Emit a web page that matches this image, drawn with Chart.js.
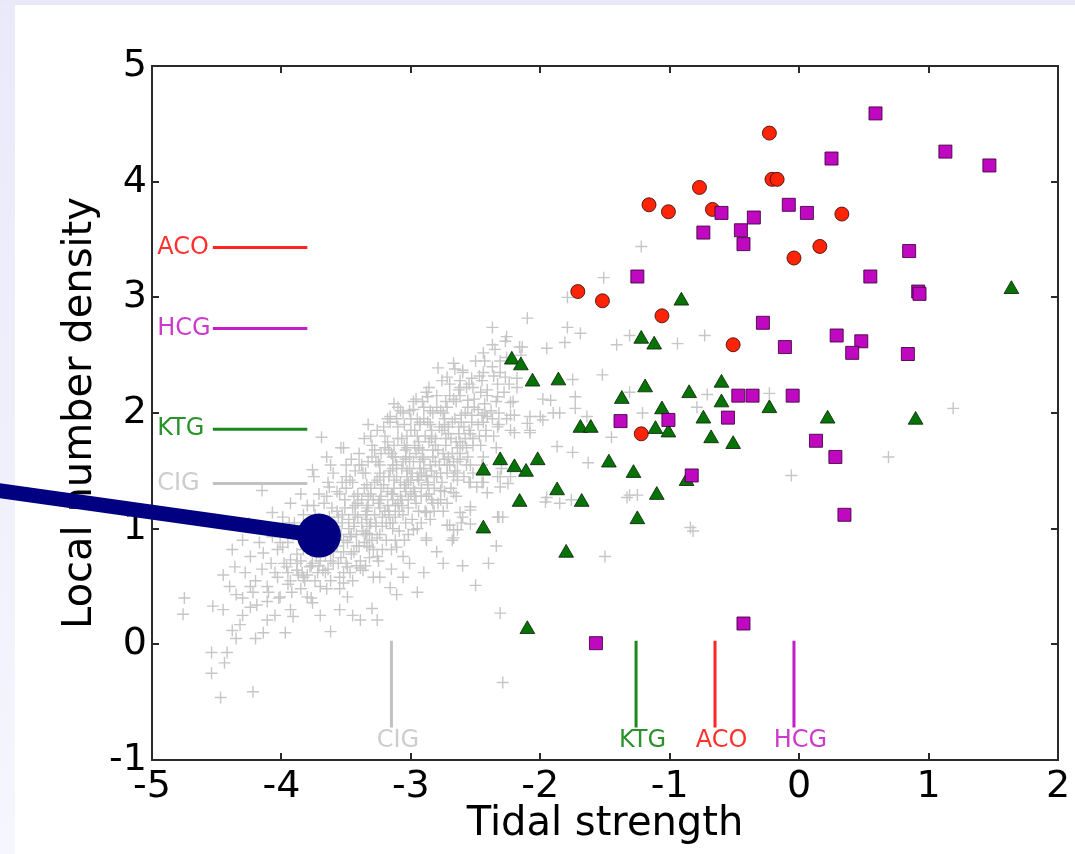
<!DOCTYPE html>
<html><head><meta charset="utf-8">
<script src="https://cdn.jsdelivr.net/npm/chart.js@4.4.1/dist/chart.umd.min.js"></script>
<style>html,body{margin:0;padding:0;background:#fff;overflow:hidden}#wrap{width:1075px;height:854px;position:relative}</style>
</head><body><div id="wrap"><canvas id="c" width="1075" height="854"></canvas></div>
<script>
const FONT = '"DejaVu Sans", "Liberation Sans", sans-serif';
const xTicks = [-5, -4, -3, -2, -1, 0, 1, 2];
const yTicks = [-1, 0, 1, 2, 3, 4, 5];

// typical values of each sample (horizontal marks on the left, vertical marks at the bottom)
const refNames = ['ACO', 'HCG', 'KTG', 'CIG'];
const refDensity = [3.43, 2.73, 1.86, 1.39];
const refTidal = [-0.65, -0.04, -1.26, -3.15];
const refLineColors = ['#ff2424', '#c41ec8', '#1a881a', '#c2c2c2'];
const refTextColors = ['#ff3030', '#cc3acc', '#2a922a', '#cdcdcd'];
const refHSpan = [-4.53, -3.80];
const refVSpan = [0.03, -0.72];
const refLabelX = -4.96;
const refLabelY = -0.83;

// ACO (red circles)
const aco = [[-0.23,4.42],[-0.77,3.95],[-1.16,3.80],[-1.01,3.74],[-0.21,4.02],[-0.17,4.02],[-0.67,3.76],[0.33,3.72],[0.16,3.44],[-0.04,3.34],[-1.71,3.05],[-1.52,2.97],[-1.06,2.84],[-0.51,2.59],[-1.22,1.82]];

// HCG (magenta squares)
const hcg = [[0.59,4.59],[0.25,4.20],[1.13,4.26],[1.47,4.14],[-0.08,3.80],[0.06,3.73],[-0.35,3.69],[-0.60,3.73],[-0.74,3.56],[-0.45,3.58],[-0.43,3.46],[-1.25,3.18],[0.85,3.40],[0.55,3.18],[0.92,3.05],[0.93,3.03],[-0.28,2.78],[0.29,2.67],[0.48,2.62],[0.41,2.52],[0.84,2.51],[-0.11,2.57],[-0.47,2.15],[-0.36,2.15],[-0.05,2.15],[-1.38,1.93],[-1.01,1.94],[-0.55,1.96],[0.13,1.76],[0.28,1.62],[0.35,1.12],[-0.83,1.46],[-1.57,0.01],[-0.43,0.18]];

// KTG (green triangles)
const ktg = [[-0.91,2.97],[-1.22,2.64],[-1.12,2.59],[-2.22,2.46],[-2.15,2.41],[-2.06,2.27],[-1.86,2.28],[-1.19,2.22],[-0.85,2.17],[-0.60,2.26],[-1.37,2.12],[-0.60,2.09],[-1.06,2.03],[-0.74,1.95],[-1.69,1.87],[-1.61,1.87],[-1.11,1.86],[-1.01,1.83],[-0.68,1.78],[-0.51,1.73],[-2.31,1.59],[-2.02,1.59],[-1.47,1.57],[-2.44,1.50],[-2.20,1.53],[-2.11,1.49],[-1.28,1.48],[-0.87,1.41],[-1.87,1.33],[-1.10,1.29],[-2.16,1.23],[-1.68,1.23],[-1.25,1.08],[-2.44,1.00],[-1.80,0.79],[-2.10,0.13],[-0.23,2.04],[0.22,1.95],[0.90,1.94],[1.64,3.07]];

// CIG (grey crosses)
const cig = [
[-4.75,0.40],[-4.76,0.26],[-4.53,0.33],[-4.54,-0.25],[-4.47,-0.46],[-4.22,-0.41],[-4.54,-0.07],[-4.42,-0.07],[-4.44,-0.16],
[-4.35,0.43],[-4.38,0.82],[-4.36,0.67],[-4.38,0.12],[-4.32,0.17],[-4.30,0.25],[-4.24,0.32],[-4.14,0.10],[-4.11,0.21],[-3.97,0.10],[-3.93,0.30],[-3.91,0.24],[-3.62,0.11],[-3.39,0.21],[-3.30,0.31],[-3.26,0.21],[-3.49,0.41],[-3.16,0.49],[-3.11,0.43],[-2.95,0.45],[-3.06,0.58],[-3.29,0.58],[-3.39,0.66],[-3.52,0.53],[-3.70,0.50],[-3.76,0.36],[-3.80,0.41],[-4.01,0.41],[-4.11,0.37],[-4.19,0.34],[-4.24,0.50],[-4.11,0.50],[-4.03,0.58],[-3.96,0.67],[-3.88,0.64],[-3.83,0.58],[-3.68,0.64],[-3.60,0.70],[-3.49,0.67],[-3.37,0.64],[-3.24,0.58],[-3.26,0.76],[-3.32,0.84],[-3.11,0.84],[-3.06,0.76],[-3.01,0.70],[-2.88,0.92],[-2.98,0.99],[-3.14,1.05],[-3.34,0.96],[-3.47,0.93],[-3.62,0.93],[-3.93,0.73],[-4.03,0.82],[-4.14,0.79],[-4.24,0.76],[-4.30,0.90],[-4.17,0.88],[-4.07,0.93],[-3.99,0.84],[-3.83,0.82],[-3.73,0.76],[-3.88,0.70],[-3.78,0.67],[-4.07,1.14],[-3.93,1.22],[-3.99,1.10],[-4.11,1.01],[-4.15,1.33],[-4.25,1.05],[-4.45,0.60],
[-3.69,1.79],[-3.76,1.51],[-3.52,1.70],[-3.33,1.90],[-3.10,2.05],[-2.98,2.03],[-3.16,1.97],[-2.87,2.14],[-3.85,1.30],[-3.62,1.55],
[-3.82,0.55],[-3.78,0.85],[-3.81,1.02],[-3.77,0.68],[-3.80,1.20],[-3.92,0.45],[-3.88,0.78],[-3.91,0.95],[-3.87,0.60],[-4.02,0.40],[-3.98,0.70],[-4.01,0.88],
[-3.72,0.62],[-3.68,0.95],[-3.74,1.12],[-3.66,0.78],[-3.71,1.30],[-3.65,0.48],[-3.69,1.05],
[-3.62,0.72],[-3.58,1.02],[-3.61,1.18],[-3.57,0.85],[-3.63,1.36],[-3.55,0.58],[-3.60,1.48],[-3.56,1.10],
[-3.52,0.80],[-3.48,1.08],[-3.51,1.25],[-3.46,0.95],[-3.53,1.40],[-3.47,0.62],[-3.50,1.55],[-3.45,1.18],[-3.49,0.88],
[-3.42,0.85],[-3.38,1.05],[-3.41,1.22],[-3.36,1.35],[-3.43,1.50],[-3.37,0.98],[-3.40,1.65],[-3.35,1.12],[-3.39,0.72],[-3.44,1.28],
[-3.32,0.95],[-3.28,1.12],[-3.31,1.30],[-3.26,1.42],[-3.33,1.58],[-3.27,1.05],[-3.30,1.72],[-3.25,1.22],[-3.29,0.82],[-3.34,1.38],[-3.24,1.55],
[-3.22,1.02],[-3.18,1.20],[-3.21,1.38],[-3.16,1.50],[-3.23,1.65],[-3.17,1.12],[-3.20,1.80],[-3.15,1.30],[-3.19,0.90],[-3.24,1.45],[-3.14,1.62],[-3.18,1.95],
[-3.12,1.10],[-3.08,1.28],[-3.11,1.45],[-3.06,1.58],[-3.13,1.72],[-3.07,1.20],[-3.10,1.88],[-3.05,1.38],[-3.09,0.98],[-3.14,1.52],[-3.04,1.68],[-3.08,2.02],
[-3.02,1.18],[-2.98,1.35],[-3.01,1.52],[-2.96,1.65],[-3.03,1.80],[-2.97,1.28],[-3.00,1.95],[-2.95,1.45],[-2.99,1.08],[-3.04,1.60],[-2.94,1.75],[-2.98,2.10],[-3.02,1.40],
[-2.92,1.28],[-2.88,1.45],[-2.91,1.62],[-2.86,1.75],[-2.93,1.90],[-2.87,1.38],[-2.90,2.05],[-2.85,1.55],[-2.89,1.15],[-2.94,1.70],[-2.84,1.85],[-2.88,2.18],
[-2.82,1.35],[-2.78,1.55],[-2.81,1.72],[-2.76,1.85],[-2.83,2.00],[-2.77,1.48],[-2.80,2.15],[-2.75,1.65],[-2.79,1.22],[-2.84,1.80],[-2.74,1.95],
[-2.72,1.48],[-2.68,1.65],[-2.71,1.82],[-2.66,1.95],[-2.73,2.10],[-2.67,1.58],[-2.70,2.25],[-2.65,1.75],[-2.69,1.35],[-2.74,1.90],
[-2.62,1.60],[-2.58,1.78],[-2.61,1.92],[-2.56,2.05],[-2.63,2.20],[-2.57,1.70],[-2.60,2.35],[-2.55,1.85],[-2.59,1.45],
[-2.52,1.72],[-2.48,1.90],[-2.51,2.05],[-2.46,2.18],[-2.53,2.30],[-2.47,1.80],[-2.50,2.45],[-2.45,1.98],
[-2.42,1.85],[-2.38,2.02],[-2.41,2.20],[-2.36,2.32],[-2.43,2.45],[-2.37,1.95],[-2.35,2.55],
[-2.32,2.00],[-2.28,2.18],[-2.31,2.35],[-2.26,2.48],[-2.27,2.62],[-2.21,2.10],[-2.18,2.30],[-2.15,2.50],
[-3.76,0.70],[-3.73,0.92],[-3.75,1.45],[-3.77,0.40],
[-3.66,0.62],[-3.64,0.88],[-3.67,1.22],[-3.63,1.02],[-3.65,1.62],
[-3.56,0.70],[-3.54,0.95],[-3.57,1.32],[-3.53,1.12],[-3.55,0.48],[-3.54,1.70],
[-3.46,0.78],[-3.44,1.02],[-3.47,1.42],[-3.43,1.20],[-3.45,0.55],[-3.46,1.60],
[-3.36,0.88],[-3.34,1.08],[-3.37,1.48],[-3.33,1.28],[-3.35,0.68],[-3.36,1.78],[-3.34,1.18],
[-3.26,0.92],[-3.24,1.18],[-3.27,1.58],[-3.23,1.35],[-3.25,0.72],[-3.26,1.85],[-3.24,1.48],[-3.27,1.02],
[-3.16,1.05],[-3.14,1.25],[-3.17,1.68],[-3.13,1.42],[-3.15,0.82],[-3.16,1.92],[-3.14,1.55],[-3.17,1.15],[-3.13,2.08],
[-3.06,1.12],[-3.04,1.35],[-3.07,1.78],[-3.03,1.50],[-3.05,0.90],[-3.06,2.00],[-3.04,1.62],[-3.07,1.25],[-3.03,1.70],
[-2.96,1.22],[-2.94,1.42],[-2.97,1.85],[-2.93,1.58],[-2.95,1.00],[-2.96,2.12],[-2.94,1.70],[-2.97,1.32],[-2.93,1.92],
[-2.86,1.30],[-2.84,1.50],[-2.87,1.92],[-2.83,1.68],[-2.85,1.08],[-2.86,2.22],[-2.84,1.78],[-2.87,1.40],
[-2.76,1.40],[-2.74,1.60],[-2.77,2.02],[-2.73,1.78],[-2.75,1.15],[-2.76,2.28],[-2.74,1.88],
[-2.66,1.50],[-2.64,1.70],[-2.67,2.12],[-2.63,1.88],[-2.65,1.28],[-2.66,2.38],
[-2.56,1.62],[-2.54,1.82],[-2.57,2.22],[-2.53,1.98],[-2.55,1.40],
[-2.46,1.72],[-2.44,1.92],[-2.47,2.32],[-2.43,2.08],[-2.45,1.55],
[-2.36,1.80],[-2.34,2.10],[-2.37,2.40],[-2.26,1.95],[-2.24,2.25],
[-3.93,0.55],[-3.95,0.88],[-3.94,1.05],
[-3.84,0.62],[-3.86,0.92],[-3.85,0.48],[-3.83,1.12],
[-3.74,0.55],[-3.72,0.80],[-3.73,1.00],[-3.75,1.20],[-3.71,0.68],
[-3.64,0.65],[-3.62,0.82],[-3.63,1.10],[-3.61,0.95],[-3.65,1.28],[-3.62,0.55],
[-3.54,0.75],[-3.52,0.90],[-3.53,1.05],[-3.51,1.18],[-3.55,1.30],[-3.52,0.62],[-3.50,1.45],
[-3.44,0.80],[-3.42,0.95],[-3.43,1.12],[-3.41,1.30],[-3.45,1.40],[-3.42,0.68],[-3.40,1.55],[-3.44,1.05],
[-3.34,0.85],[-3.32,1.02],[-3.33,1.20],[-3.31,1.35],[-3.35,1.48],[-3.32,0.75],[-3.30,1.62],[-3.34,1.15],[-3.31,1.80],
[-3.24,0.95],[-3.22,1.10],[-3.23,1.28],[-3.21,1.45],[-3.25,1.58],[-3.22,0.82],[-3.20,1.70],[-3.24,1.25],[-3.21,1.88],
[-3.14,1.00],[-3.12,1.20],[-3.13,1.35],[-3.11,1.55],[-3.15,1.65],[-3.12,0.90],[-3.10,1.78],[-3.14,1.30],[-3.11,1.95],
[-3.04,1.05],[-3.02,1.25],[-3.03,1.45],[-3.01,1.62],[-3.05,1.72],[-3.02,0.95],[-3.00,1.85],[-3.04,1.32],[-3.01,2.02],
[-2.94,1.15],[-2.92,1.35],[-2.93,1.52],[-2.91,1.68],[-2.95,1.80],[-2.92,1.05],[-2.90,1.95],[-2.94,1.42],[-2.91,2.10],
[-2.84,1.25],[-2.82,1.45],[-2.83,1.62],[-2.81,1.78],[-2.85,1.90],[-2.82,1.15],[-2.80,2.05],
[-2.74,1.32],[-2.72,1.55],[-2.73,1.72],[-2.71,1.88],[-2.75,2.00],[-2.72,1.22],[-2.70,2.15],
[-2.64,1.42],[-2.62,1.65],[-2.63,1.82],[-2.61,1.98],[-2.65,2.10],[-2.62,2.28],
[-2.54,1.55],[-2.52,1.78],[-2.53,1.92],[-2.51,2.12],[-2.55,2.25],
[-2.44,1.62],[-2.42,1.80],[-2.43,2.00],[-2.41,2.15],[-2.45,2.28],
[-2.34,1.70],[-2.32,1.90],[-2.33,2.25],[-2.31,2.45],
[-3.48,1.00],[-3.41,1.10],[-3.38,1.25],[-3.35,0.95],[-3.31,1.05],[-3.29,1.25],[-3.28,1.40],[-3.19,1.05],[-3.18,1.32],[-3.17,1.45],[-3.12,1.62],[-3.09,1.15],[-3.08,1.40],[-3.07,1.52],[-3.00,1.30],[-2.99,1.48],[-2.98,1.58],[-2.97,1.72],[-2.92,1.48],[-2.90,1.60],[-2.89,1.80],[-2.88,1.28],[-2.81,1.58],[-2.79,1.68],[-2.78,1.88],[-2.77,1.25],[-2.71,1.62],[-2.69,1.78],[-2.68,1.92],[-2.67,1.45],[-2.60,1.72],[-2.59,1.88],[-2.58,2.00],[-2.57,1.55],
[-3.58,0.90],[-3.57,1.15],[-3.60,0.80],[-3.50,0.70],[-3.40,0.85],[-3.30,0.90],[-3.20,1.15],[-3.10,1.22],[-3.00,1.42],[-2.90,1.52],[-2.80,1.45],[-2.70,1.55],[-2.62,1.75],[-3.68,0.85],[-3.70,0.72],[-3.80,0.60],[-3.85,0.72],[-3.95,0.62],[-4.05,0.62],[-4.10,0.45],[-4.22,0.45],[-4.30,0.40],[-3.64,1.40],[-3.50,1.35],[-3.38,1.55],[-3.28,1.68],[-3.18,1.75],[-3.05,1.90],[-2.95,1.95],[-2.85,2.02],[-2.72,2.05],[-2.62,2.15],
[-4.05,0.25],[-4.20,0.55],[-4.28,0.62],[-4.15,0.65],[-4.08,0.70],[-3.95,0.52],[-4.35,0.05],[-4.20,0.05],[-4.45,0.30],[-4.40,0.50],[-4.00,1.00],[-3.90,1.05],[-3.70,0.25],[-3.55,0.30],[-3.45,0.25],[-3.15,0.65],[-2.90,0.62],[-2.80,0.80],[-2.75,0.70],
[-2.27,2.31],[-2.18,2.22],[-2.33,2.14],[-2.23,2.09],[-2.20,1.98],[-2.10,1.91],[-2.23,1.85],[-2.08,1.83],[-2.33,1.88],[-2.41,1.97],[-2.48,2.03],[-2.56,2.11],[-2.62,2.22],[-2.52,2.22],[-2.44,2.35],[-2.60,2.37],[-2.72,2.31],[-2.79,2.39],[-2.67,2.43],[-2.44,2.52],[-2.37,2.59],
[-2.50,0.51],[-2.60,0.68],[-2.40,0.70],[-2.34,0.85],[-2.32,1.10],[-2.67,0.92],[-2.64,0.99],[-2.70,1.03],[-2.61,1.05],[-2.54,1.04],[-2.54,1.16],[-2.25,1.39],[-2.33,1.45],[-2.44,1.40],
[-1.96,1.23],[-1.85,1.22],[-1.76,1.25],[-1.33,1.27],[-1.25,1.29],[-1.50,0.76],[-0.82,0.98],[-2.31,0.27],[-2.29,-0.33],
[-2.88,1.46],[-2.77,1.33],[-2.67,1.31],[-2.83,1.22],[-2.88,1.14],[-2.72,1.03],[-2.60,1.10],[-2.67,0.99],[-2.68,0.90],[-2.88,0.90],[-2.52,1.48],[-2.31,1.45],[-2.45,1.40],
[-2.26,2.66],[-2.14,2.57],[-1.95,2.56],[-1.81,2.61],[-1.69,2.69],[-1.41,2.59],[-1.31,2.67],[-0.94,2.60],[-0.73,2.67],[-1.52,2.33],[-1.31,2.18],[-0.71,2.16],[-0.79,2.05],[-1.21,2.00],[-1.45,1.79],[-1.73,2.14],[-1.73,2.04],[-1.85,2.00],[-1.92,2.11],[-1.64,1.97],[-2.08,1.97],[-1.98,1.94],[-2.23,1.98],[-2.20,1.83],[-2.08,1.85],[-1.87,1.71],[-1.75,1.66],[-1.63,1.57],[-2.49,1.36],[-2.41,1.31],[-2.31,1.36],[-1.31,1.29],[-2.64,1.58],[-2.64,1.48],[-2.54,1.40],[-2.23,1.45],[-1.95,1.27],[-2.29,1.10],[-2.62,1.14],[-2.54,1.19],[-2.33,1.10],[-0.84,1.01],
[-1.22,3.44],[-1.51,3.17],[-1.79,3.00],[-2.10,2.82],[-2.37,2.74],[-1.79,2.74],[-2.16,2.57],[-1.75,2.29],[-1.98,2.12],[-1.90,2.00],[-2.00,1.97],[-2.30,1.52],
[-0.23,2.17],[1.19,2.04],[0.69,1.62],[-0.06,1.46]
];

const pts = arr => arr.map(([x, y]) => ({x, y}));

const bgPlugin = {
  id: 'bg',
  beforeDraw(chart) {
    const ctx = chart.ctx, W = chart.width, H = chart.height;
    ctx.save();
    ctx.fillStyle = '#e8e8f9';
    ctx.fillRect(0, 0, W, H);
    const g = ctx.createLinearGradient(0, 0, 0, H);
    g.addColorStop(0, '#e9e9fa');
    g.addColorStop(1, '#f6f6fe');
    ctx.fillStyle = g;
    ctx.fillRect(0, 5, 15, H - 5);
    ctx.fillStyle = '#ffffff';
    ctx.fillRect(15, 5, W - 15, H - 5);
    ctx.restore();
  }
};

const framePlugin = {
  id: 'frame',
  afterDatasetsDraw(chart) {
    const {ctx, chartArea: a, scales: {x, y}} = chart;
    ctx.save();
    ctx.strokeStyle = '#2a2a2a';
    ctx.lineWidth = 2;
    ctx.strokeRect(a.left, a.top, a.right - a.left, a.bottom - a.top);
    ctx.beginPath();
    xTicks.forEach(v => {
      const p = Math.round(x.getPixelForValue(v));
      ctx.moveTo(p, a.bottom); ctx.lineTo(p, a.bottom - 7);
      ctx.moveTo(p, a.top); ctx.lineTo(p, a.top + 7);
    });
    yTicks.forEach(v => {
      const p = Math.round(y.getPixelForValue(v));
      ctx.moveTo(a.left, p); ctx.lineTo(a.left + 7, p);
      ctx.moveTo(a.right, p); ctx.lineTo(a.right - 7, p);
    });
    ctx.stroke();
    // sample labels
    ctx.font = '24px ' + FONT;
    ctx.textBaseline = 'middle';
    refNames.forEach((n, i) => {
      ctx.fillStyle = refTextColors[i];
      ctx.textAlign = 'left';
      ctx.fillText(n, x.getPixelForValue(refLabelX), y.getPixelForValue(refDensity[i]));
      ctx.textAlign = 'center';
      ctx.fillText(n, x.getPixelForValue(refTidal[i] + 0.05), y.getPixelForValue(refLabelY));
    });
    ctx.restore();
  }
};

// pointer annotation (navy bar ending in a dot on the CIG cloud)
const pointerTarget = {x: -3.71, y: 0.94};
const pointerPlugin = {
  id: 'pointer',
  afterDraw(chart) {
    const {ctx, scales: {x, y}} = chart;
    const px = x.getPixelForValue(pointerTarget.x), py = y.getPixelForValue(pointerTarget.y);
    ctx.save();
    ctx.strokeStyle = '#000080';
    ctx.fillStyle = '#000080';
    ctx.lineWidth = 15;
    ctx.beginPath();
    ctx.moveTo(-5, 490);
    ctx.lineTo(px, py);
    ctx.stroke();
    ctx.beginPath();
    ctx.arc(px, py, 22, 0, Math.PI * 2);
    ctx.fill();
    ctx.restore();
  }
};

const refDatasets = [];
refNames.forEach((n, i) => {
  refDatasets.push({
    type: 'line', label: n + ' h', order: 6,
    data: [{x: refHSpan[0], y: refDensity[i]}, {x: refHSpan[1], y: refDensity[i]}],
    borderColor: refLineColors[i], borderWidth: 3, pointRadius: 0, showLine: true, fill: false
  });
  refDatasets.push({
    type: 'line', label: n + ' v', order: 6,
    data: [{x: refTidal[i], y: refVSpan[0]}, {x: refTidal[i], y: refVSpan[1]}],
    borderColor: refLineColors[i], borderWidth: 3, pointRadius: 0, showLine: true, fill: false
  });
});

new Chart(document.getElementById('c'), {
  type: 'scatter',
  data: {
    datasets: [
      {label: 'HCG', data: pts(hcg), order: 1, pointStyle: 'rect', pointRadius: 9.2,
        backgroundColor: '#bf08bf', borderColor: 'rgba(60,0,60,0.85)', borderWidth: 1},
      {label: 'ACO', data: pts(aco), order: 2, pointStyle: 'circle', pointRadius: 7,
        backgroundColor: '#ff2308', borderColor: 'rgba(60,10,10,0.85)', borderWidth: 1},
      {label: 'KTG', data: pts(ktg), order: 3, pointStyle: 'triangle', pointRadius: 8.5,
        backgroundColor: '#077307', borderColor: 'rgba(10,40,10,0.85)', borderWidth: 1},
      {label: 'CIG', data: pts(cig), order: 4, pointStyle: 'cross', pointRadius: 6,
        borderColor: '#c6c6c6', backgroundColor: '#c6c6c6', borderWidth: 1.4},
      ...refDatasets
    ]
  },
  options: {
    responsive: false,
    animation: false,
    events: [],
    layout: {padding: {left: 0, right: 17, top: 66, bottom: 0}},
    plugins: {legend: {display: false}, tooltip: {enabled: false}},
    scales: {
      x: {
        type: 'linear', min: -5, max: 2,
        afterBuildTicks: s => { s.ticks = xTicks.map(v => ({value: v})); },
        afterFit: s => { s.height = 94; },
        grid: {display: false, drawTicks: false},
        border: {display: false},
        ticks: {color: '#000', font: {family: FONT, size: 38}, padding: 4, maxRotation: 0, autoSkip: false},
        title: {display: true, text: 'Tidal strength', color: '#000', font: {family: FONT, size: 40}, padding: {top: 0, bottom: 5}}
      },
      y: {
        type: 'linear', min: -1, max: 5,
        afterBuildTicks: s => { s.ticks = yTicks.map(v => ({value: v})); },
        afterFit: s => { s.width = 152; },
        grid: {display: false, drawTicks: false},
        border: {display: false},
        ticks: {color: '#000', font: {family: FONT, size: 38}, padding: 5, autoSkip: false},
        title: {display: true, text: 'Local number density', color: '#000', font: {family: FONT, size: 40}, padding: {top: 57, bottom: 0}}
      }
    }
  },
  plugins: [bgPlugin, framePlugin, pointerPlugin]
});
</script>
</body></html>
